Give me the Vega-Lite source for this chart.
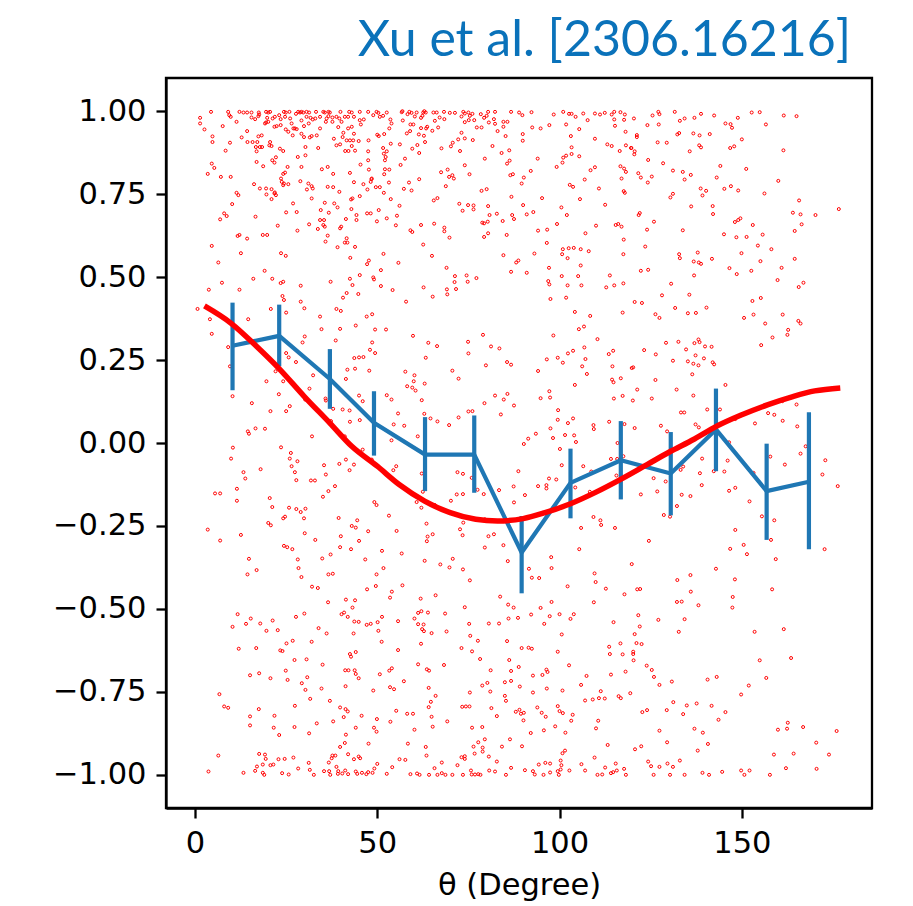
{
"$schema":"https://vega.github.io/schema/vega-lite/v6.json",
"width":706,"height":730,
"autosize":{"type":"none"},
"padding":{"left":166,"top":78,"right":41,"bottom":98},
"background":"white",
"config":{
"view":{"stroke":"black","strokeWidth":2.3},
"axis":{"domainColor":"black","domainWidth":2.3,"tickColor":"black","tickWidth":2.3,"tickSize":10,"labelFont":"DejaVu Sans","labelFontSize":30.5,"labelColor":"black","labelPadding":10,"grid":false,"titleFont":"DejaVu Sans","titleFontSize":30.5,"titleFontWeight":"normal","titleColor":"black"}
},
"title":{"text":"Xu et al. [2306.16216]","anchor":"end","frame":"group","dx":-21,"offset":12,"font":"Lato","fontSize":50,"fontWeight":"normal","color":"#0a72ba"},
"datasets":{
"bins":[{"t":10.3,"m":0.293,"lo":0.159,"hi":0.423},{"t":23.1,"m":0.323,"lo":0.231,"hi":0.417},{"t":37.0,"m":0.193,"lo":0.103,"hi":0.283},{"t":49.1,"m":0.061,"lo":-0.038,"hi":0.156},{"t":63.1,"m":-0.035,"lo":-0.145,"hi":0.078},{"t":76.6,"m":-0.035,"lo":-0.150,"hi":0.083},{"t":89.6,"m":-0.330,"lo":-0.453,"hi":-0.220},{"t":103.0,"m":-0.120,"lo":-0.227,"hi":-0.017},{"t":116.8,"m":-0.052,"lo":-0.170,"hi":0.066},{"t":130.5,"m":-0.092,"lo":-0.218,"hi":0.033},{"t":142.9,"m":0.041,"lo":-0.085,"hi":0.164},{"t":156.8,"m":-0.145,"lo":-0.292,"hi":-0.002},{"t":168.4,"m":-0.117,"lo":-0.320,"hi":0.093}],
"fit":[{"t":2.6,"f":0.413},{"t":10,"f":0.36},{"t":17,"f":0.29},{"t":23,"f":0.225},{"t":30,"f":0.14},{"t":37,"f":0.06},{"t":43,"f":-0.01},{"t":50,"f":-0.07},{"t":56,"f":-0.125},{"t":63,"f":-0.175},{"t":70,"f":-0.21},{"t":77,"f":-0.23},{"t":83,"f":-0.235},{"t":90,"f":-0.228},{"t":96,"f":-0.21},{"t":103,"f":-0.183},{"t":110,"f":-0.148},{"t":117,"f":-0.108},{"t":124,"f":-0.065},{"t":130,"f":-0.028},{"t":137,"f":0.012},{"t":143,"f":0.05},{"t":150,"f":0.085},{"t":157,"f":0.115},{"t":164,"f":0.14},{"t":170,"f":0.157},{"t":177,"f":0.166}],
"dots":[
{"t":4.4,"v":0.998},{"t":9.1,"v":0.998},{"t":12.2,"v":0.998},{"t":13.3,"v":0.996},{"t":14.3,"v":0.996},{"t":15.5,"v":0.996},{"t":17.5,"v":0.996},{"t":19.5,"v":0.998},{"t":20.1,"v":0.996},{"t":20.6,"v":0.998},{"t":24.4,"v":0.998},{"t":24.9,"v":0.996},{"t":25.9,"v":0.998},{"t":28.3,"v":0.998},{"t":28.8,"v":0.996},{"t":29.2,"v":0.998},{"t":29.7,"v":0.996},{"t":30.6,"v":0.998},{"t":31.3,"v":0.996},{"t":33.2,"v":0.998},{"t":35.2,"v":0.998},{"t":35.6,"v":0.996},{"t":36.6,"v":0.998},{"t":37.0,"v":0.996},{"t":39.9,"v":0.998},{"t":42.3,"v":0.998},{"t":43.0,"v":0.996},{"t":45.2,"v":0.998},{"t":47.5,"v":0.998},{"t":49.8,"v":0.998},{"t":50.3,"v":0.995},{"t":52.6,"v":0.996},
{"t":1.4,"v":0.980},{"t":9.4,"v":0.988},{"t":9.8,"v":0.983},{"t":15.5,"v":0.981},{"t":16.5,"v":0.976},{"t":17.6,"v":0.990},{"t":17.4,"v":0.985},{"t":19.8,"v":0.980},{"t":19.5,"v":0.966},{"t":21.3,"v":0.978},{"t":21.9,"v":0.983},{"t":23.1,"v":0.988},{"t":23.5,"v":0.976},{"t":24.7,"v":0.983},{"t":26.1,"v":0.978},{"t":27.7,"v":0.992},{"t":29.2,"v":0.972},{"t":30.6,"v":0.983},{"t":31.7,"v":0.980},{"t":32.3,"v":0.975},{"t":33.0,"v":0.978},{"t":34.3,"v":0.983},{"t":36.1,"v":0.978},{"t":36.6,"v":0.985},{"t":37.7,"v":0.981},{"t":38.8,"v":0.983},{"t":39.6,"v":0.978},{"t":41.1,"v":0.983},{"t":42.0,"v":0.983},{"t":43.6,"v":0.983},{"t":45.2,"v":0.973},{"t":46.3,"v":0.975},{"t":48.9,"v":0.988},{"t":50.7,"v":0.983},{"t":51.6,"v":0.986},{"t":53.6,"v":0.975},
{"t":1.4,"v":0.963},{"t":2.6,"v":0.945},{"t":7.6,"v":0.955},{"t":11.4,"v":0.968},{"t":19.2,"v":0.963},{"t":20.1,"v":0.968},{"t":21.8,"v":0.953},{"t":22.4,"v":0.955},{"t":23.5,"v":0.958},{"t":24.9,"v":0.945},{"t":26.5,"v":0.963},{"t":27.0,"v":0.948},{"t":27.9,"v":0.946},{"t":29.9,"v":0.955},{"t":31.2,"v":0.963},{"t":34.3,"v":0.948},{"t":35.9,"v":0.968},{"t":37.7,"v":0.968},{"t":39.3,"v":0.952},{"t":40.2,"v":0.968},{"t":42.0,"v":0.948},{"t":43.0,"v":0.953},{"t":45.5,"v":0.960},{"t":53.3,"v":0.948},{"t":53.9,"v":0.963},
{"t":4.8,"v":0.924},{"t":4.8,"v":0.907},{"t":9.6,"v":0.905},{"t":12.8,"v":0.921},{"t":14.3,"v":0.940},{"t":14.4,"v":0.907},{"t":15.8,"v":0.907},{"t":17.4,"v":0.924},{"t":18.3,"v":0.927},{"t":17.1,"v":0.907},{"t":20.6,"v":0.907},{"t":25.6,"v":0.938},{"t":26.8,"v":0.927},{"t":27.4,"v":0.948},{"t":29.2,"v":0.932},{"t":29.9,"v":0.922},{"t":31.5,"v":0.921},{"t":32.0,"v":0.925},{"t":33.4,"v":0.927},{"t":38.1,"v":0.917},{"t":40.5,"v":0.922},{"t":40.7,"v":0.935},{"t":41.6,"v":0.912},{"t":42.5,"v":0.912},{"t":43.4,"v":0.912},{"t":43.6,"v":0.932},{"t":44.9,"v":0.910},{"t":47.6,"v":0.912},{"t":50.0,"v":0.929},{"t":50.4,"v":0.925},{"t":51.9,"v":0.931},{"t":53.7,"v":0.902},
{"t":8.4,"v":0.881},{"t":16.7,"v":0.892},{"t":16.9,"v":0.879},{"t":17.8,"v":0.892},{"t":18.4,"v":0.892},{"t":20.4,"v":0.897},{"t":21.0,"v":0.895},{"t":23.3,"v":0.887},{"t":24.2,"v":0.880},{"t":30.3,"v":0.892},{"t":33.8,"v":0.889},{"t":38.8,"v":0.897},{"t":39.8,"v":0.900},{"t":41.2,"v":0.880},{"t":42.1,"v":0.880},{"t":43.0,"v":0.895},{"t":43.9,"v":0.881},{"t":47.5,"v":0.879},{"t":51.6,"v":0.889},{"t":52.6,"v":0.879},
{"t":4.6,"v":0.842},{"t":5.3,"v":0.829},{"t":16.9,"v":0.847},{"t":18.7,"v":0.834},{"t":21.2,"v":0.852},{"t":22.2,"v":0.861},{"t":21.8,"v":0.845},{"t":25.4,"v":0.832},{"t":28.2,"v":0.862},{"t":29.2,"v":0.832},{"t":30.3,"v":0.867},{"t":34.8,"v":0.825},{"t":36.4,"v":0.832},{"t":45.4,"v":0.839},{"t":47.5,"v":0.852},{"t":51.8,"v":0.872},{"t":52.1,"v":0.852},{"t":52.3,"v":0.862},{"t":52.1,"v":0.825},
{"t":3.5,"v":0.811},{"t":7.1,"v":0.802},{"t":9.8,"v":0.802},{"t":24.2,"v":0.811},{"t":24.7,"v":0.815},{"t":37.9,"v":0.811},{"t":42.5,"v":0.814},{"t":47.7,"v":0.824},{"t":48.4,"v":0.795},{"t":51.9,"v":0.810},{"t":53.3,"v":0.824},
{"t":16.2,"v":0.780},{"t":17.8,"v":0.767},{"t":19.5,"v":0.767},{"t":19.6,"v":0.749},{"t":21.0,"v":0.765},{"t":21.8,"v":0.752},{"t":23.6,"v":0.797},{"t":23.8,"v":0.787},{"t":24.2,"v":0.777},{"t":24.4,"v":0.782},{"t":25.6,"v":0.780},{"t":28.9,"v":0.789},{"t":30.7,"v":0.764},{"t":31.1,"v":0.782},{"t":32.0,"v":0.774},{"t":32.3,"v":0.767},{"t":36.4,"v":0.772},{"t":37.9,"v":0.771},{"t":39.6,"v":0.757},{"t":43.6,"v":0.786},{"t":46.2,"v":0.780},{"t":47.3,"v":0.764},{"t":48.5,"v":0.797},{"t":48.2,"v":0.787},{"t":49.6,"v":0.771},{"t":50.7,"v":0.771},{"t":51.8,"v":0.754},{"t":53.2,"v":0.785},
{"t":11.4,"v":0.754},{"t":11.9,"v":0.747},{"t":10.2,"v":0.720},{"t":21.0,"v":0.735},{"t":21.9,"v":0.755},{"t":22.2,"v":0.747},{"t":26.9,"v":0.722},{"t":32.0,"v":0.737},{"t":35.6,"v":0.724},{"t":38.2,"v":0.722},{"t":39.1,"v":0.710},{"t":42.8,"v":0.734},{"t":43.2,"v":0.737},{"t":42.9,"v":0.705},{"t":45.2,"v":0.744},{"t":50.4,"v":0.702},{"t":53.7,"v":0.735},
{"t":8.0,"v":0.692},{"t":8.7,"v":0.684},{"t":6.9,"v":0.674},{"t":16.6,"v":0.682},{"t":25.0,"v":0.695},{"t":27.9,"v":0.696},{"t":34.5,"v":0.702},{"t":36.7,"v":0.694},{"t":34.3,"v":0.672},{"t":35.2,"v":0.657},{"t":35.6,"v":0.652},{"t":35.4,"v":0.672},{"t":31.3,"v":0.659},{"t":33.7,"v":0.645},{"t":41.4,"v":0.675},{"t":44.3,"v":0.687},{"t":44.3,"v":0.672},{"t":47.2,"v":0.692},{"t":48.2,"v":0.692},{"t":49.9,"v":0.668},{"t":52.6,"v":0.677},{"t":39.8,"v":0.647},{"t":40.1,"v":0.652},{"t":28.1,"v":0.640},{"t":22.7,"v":0.655},
{"t":11.7,"v":0.624},{"t":12.2,"v":0.627},{"t":14.3,"v":0.616},{"t":18.6,"v":0.627},{"t":19.8,"v":0.627},{"t":4.6,"v":0.594},{"t":36.4,"v":0.625},{"t":35.8,"v":0.607},{"t":39.1,"v":0.590},{"t":41.1,"v":0.604},{"t":41.8,"v":0.604},{"t":41.6,"v":0.617},{"t":43.9,"v":0.591},
{"t":12.6,"v":0.572},{"t":6.4,"v":0.544},{"t":19.1,"v":0.519},{"t":23.6,"v":0.572},{"t":24.9,"v":0.564},{"t":42.6,"v":0.558},{"t":47.2,"v":0.539},{"t":47.7,"v":0.550},{"t":51.7,"v":0.570},{"t":51.0,"v":0.521},{"t":45.2,"v":0.506},
{"t":7.4,"v":0.483},{"t":16.0,"v":0.495},{"t":21.2,"v":0.495},{"t":23.5,"v":0.482},{"t":24.2,"v":0.486},{"t":29.0,"v":0.474},{"t":37.2,"v":0.486},{"t":42.5,"v":0.495},{"t":43.2,"v":0.476},{"t":48.9,"v":0.499},{"t":49.1,"v":0.493},{"t":51.0,"v":0.473},{"t":54.2,"v":0.461},{"t":3.8,"v":0.462},{"t":12.2,"v":0.462},
{"t":24.0,"v":0.443},{"t":24.4,"v":0.431},{"t":29.0,"v":0.426},{"t":40.6,"v":0.438},{"t":41.6,"v":0.452},{"t":44.8,"v":0.449},{"t":0.7,"v":0.404},{"t":4.1,"v":0.373},{"t":14.6,"v":0.373},{"t":20.8,"v":0.404},{"t":25.0,"v":0.393},{"t":30.0,"v":0.406},{"t":34.3,"v":0.381},{"t":38.8,"v":0.404},{"t":40.0,"v":0.398},{"t":47.1,"v":0.381},{"t":48.6,"v":0.388},
{"t":56.7,"v":0.997},{"t":56.9,"v":1.0},{"t":58.8,"v":0.998},{"t":59.4,"v":0.995},{"t":60.8,"v":0.996},{"t":62.6,"v":0.996},{"t":62.9,"v":1.0},{"t":63.3,"v":0.996},{"t":65.4,"v":0.996},{"t":66.3,"v":0.996},{"t":68.3,"v":0.998},{"t":69.9,"v":0.995},{"t":71.3,"v":0.995},{"t":73.6,"v":0.998},{"t":74.0,"v":0.993},{"t":75.0,"v":0.996},{"t":76.1,"v":0.992},{"t":78.4,"v":0.991},{"t":80.4,"v":0.998},{"t":82.3,"v":0.998},{"t":86.7,"v":0.998},{"t":88.9,"v":0.996},{"t":92.3,"v":0.997},{"t":98.4,"v":0.990},{"t":101.0,"v":0.998},{"t":102.6,"v":0.992},{"t":103.3,"v":0.992},{"t":106.5,"v":0.993},{"t":109.7,"v":0.993},{"t":111.1,"v":0.990},{"t":112.4,"v":0.995},{"t":114.3,"v":0.990},{"t":115.0,"v":0.998},{"t":116.7,"v":0.997},{"t":117.9,"v":0.990},
{"t":57.0,"v":0.972},{"t":58.3,"v":0.991},{"t":59.1,"v":0.960},{"t":59.9,"v":0.960},{"t":60.3,"v":0.984},{"t":62.0,"v":0.980},{"t":62.4,"v":0.986},{"t":65.8,"v":0.971},{"t":67.1,"v":0.981},{"t":68.4,"v":0.976},{"t":73.1,"v":0.984},{"t":74.0,"v":0.967},{"t":75.1,"v":0.973},{"t":75.4,"v":0.986},{"t":76.6,"v":0.973},{"t":79.3,"v":0.980},{"t":80.0,"v":0.986},{"t":80.6,"v":0.966},{"t":82.0,"v":0.976},{"t":82.3,"v":0.962},{"t":84.6,"v":0.968},{"t":85.7,"v":0.968},{"t":89.8,"v":0.988},{"t":97.2,"v":0.958},{"t":101.8,"v":0.960},{"t":104.4,"v":0.983},{"t":107.7,"v":0.973},{"t":115.0,"v":0.975},{"t":117.7,"v":0.974},
{"t":63.4,"v":0.948},{"t":63.7,"v":0.953},{"t":66.7,"v":0.951},{"t":62.0,"v":0.949},{"t":77.3,"v":0.951},{"t":78.6,"v":0.951},{"t":84.6,"v":0.953},{"t":92.5,"v":0.951},{"t":94.8,"v":0.948},{"t":105.4,"v":0.946},{"t":115.2,"v":0.956},
{"t":58.1,"v":0.933},{"t":59.0,"v":0.940},{"t":61.4,"v":0.930},{"t":62.8,"v":0.926},{"t":65.1,"v":0.941},{"t":72.2,"v":0.915},{"t":73.1,"v":0.935},{"t":74.0,"v":0.918},{"t":76.2,"v":0.913},{"t":83.0,"v":0.940},{"t":85.2,"v":0.925},{"t":89.9,"v":0.931},{"t":89.9,"v":0.911},{"t":103.1,"v":0.925},{"t":109.7,"v":0.917},{"t":118.1,"v":0.938},{"t":56.2,"v":0.900},{"t":63.1,"v":0.907},{"t":59.6,"v":0.887},{"t":61.0,"v":0.898},{"t":61.5,"v":0.874},{"t":67.6,"v":0.888},{"t":70.2,"v":0.894},{"t":70.7,"v":0.905},{"t":72.7,"v":0.880},{"t":81.6,"v":0.895},{"t":84.1,"v":0.874},{"t":86.2,"v":0.882},{"t":103.3,"v":0.891},{"t":113.1,"v":0.900},{"t":114.3,"v":0.895},{"t":118.2,"v":0.897},{"t":119.6,"v":0.889},{"t":116.5,"v":0.880},
{"t":57.6,"v":0.857},{"t":56.4,"v":0.838},{"t":67.5,"v":0.816},{"t":69.3,"v":0.824},{"t":69.7,"v":0.802},{"t":70.6,"v":0.807},{"t":71.0,"v":0.797},{"t":74.0,"v":0.837},{"t":75.3,"v":0.810},{"t":79.5,"v":0.857},{"t":85.6,"v":0.842},{"t":86.3,"v":0.851},{"t":86.5,"v":0.807},{"t":87.2,"v":0.810},{"t":90.2,"v":0.800},{"t":89.6,"v":0.782},{"t":92.1,"v":0.820},{"t":94.0,"v":0.857},{"t":99.2,"v":0.832},{"t":100.8,"v":0.845},{"t":101.0,"v":0.860},{"t":101.8,"v":0.866},{"t":103.3,"v":0.871},{"t":105.4,"v":0.864},{"t":108.5,"v":0.822},{"t":109.7,"v":0.831},{"t":116.7,"v":0.834},{"t":117.7,"v":0.827},{"t":118.2,"v":0.817},{"t":117.0,"v":0.797},
{"t":58.7,"v":0.785},{"t":61.5,"v":0.795},{"t":57.3,"v":0.766},{"t":59.4,"v":0.761},{"t":68.8,"v":0.774},{"t":65.5,"v":0.731},{"t":66.5,"v":0.738},{"t":78.6,"v":0.760},{"t":80.0,"v":0.765},{"t":86.8,"v":0.742},{"t":95.2,"v":0.738},{"t":102.8,"v":0.778},{"t":103.7,"v":0.772},{"t":105.6,"v":0.735},{"t":106.9,"v":0.794},{"t":110.8,"v":0.767},{"t":117.6,"v":0.759},{"t":117.9,"v":0.754},
{"t":56.1,"v":0.715},{"t":55.4,"v":0.685},{"t":55.1,"v":0.656},{"t":72.5,"v":0.721},{"t":73.4,"v":0.700},{"t":74.9,"v":0.717},{"t":76.4,"v":0.716},{"t":76.4,"v":0.704},{"t":80.4,"v":0.714},{"t":80.8,"v":0.687},{"t":82.8,"v":0.691},{"t":78.8,"v":0.664},{"t":79.3,"v":0.662},{"t":80.3,"v":0.667},{"t":84.4,"v":0.669},{"t":87.0,"v":0.687},{"t":87.5,"v":0.675},{"t":90.0,"v":0.717},{"t":91.0,"v":0.689},{"t":92.8,"v":0.696},{"t":100.5,"v":0.710},{"t":102.0,"v":0.687},{"t":112.5,"v":0.718},{"t":62.0,"v":0.657},{"t":65.6,"v":0.661},{"t":68.4,"v":0.649},{"t":68.4,"v":0.638},{"t":59.1,"v":0.641},{"t":59.6,"v":0.636},{"t":69.8,"v":0.619},{"t":79.3,"v":0.621},{"t":80.4,"v":0.632},{"t":85.5,"v":0.627},{"t":94.1,"v":0.640},{"t":96.6,"v":0.643},{"t":99.3,"v":0.660},{"t":107.1,"v":0.632},{"t":110.0,"v":0.655},{"t":115.4,"v":0.657},{"t":116.1,"v":0.660},{"t":117.0,"v":0.652},{"t":117.6,"v":0.613},
{"t":62.6,"v":0.598},{"t":65.0,"v":0.564},{"t":84.6,"v":0.566},{"t":88.1,"v":0.544},{"t":88.7,"v":0.550},{"t":93.1,"v":0.571},{"t":96.5,"v":0.603},{"t":100.9,"v":0.584},{"t":100.7,"v":0.569},{"t":102.5,"v":0.587},{"t":103.9,"v":0.588},{"t":105.8,"v":0.584},{"t":108.0,"v":0.578},{"t":102.2,"v":0.557},{"t":117.5,"v":0.569},{"t":55.8,"v":0.543},{"t":105.8,"v":0.535},
{"t":69.0,"v":0.528},{"t":86.7,"v":0.516},{"t":91.0,"v":0.513},{"t":97.1,"v":0.528},{"t":71.3,"v":0.503},{"t":74.5,"v":0.505},{"t":77.2,"v":0.497},{"t":71.2,"v":0.485},{"t":74.8,"v":0.486},{"t":96.9,"v":0.488},{"t":97.2,"v":0.478},{"t":100.6,"v":0.503},{"t":105.1,"v":0.503},{"t":113.8,"v":0.505},{"t":62.7,"v":0.469},{"t":69.1,"v":0.463},{"t":71.6,"v":0.464},{"t":102.2,"v":0.475},{"t":106.0,"v":0.475},{"t":112.8,"v":0.469},{"t":115.0,"v":0.475},{"t":117.5,"v":0.481},{"t":69.2,"v":0.448},{"t":65.2,"v":0.441},{"t":57.9,"v":0.426},{"t":97.5,"v":0.434},{"t":101.8,"v":0.438},{"t":104.2,"v":0.395},{"t":108.4,"v":0.383},{"t":117.3,"v":0.393},
{"t":120.4,"v":0.978},{"t":125.5,"v":0.987},{"t":127.1,"v":0.998},{"t":127.4,"v":0.991},{"t":131.6,"v":0.998},{"t":133.0,"v":0.971},{"t":134.3,"v":0.978},{"t":137.0,"v":0.980},{"t":138.8,"v":0.992},{"t":142.4,"v":0.987},{"t":148.9,"v":0.980},{"t":152.7,"v":0.996},{"t":154.9,"v":0.997},{"t":161.5,"v":0.987},{"t":165.0,"v":0.985},{"t":124.1,"v":0.958},{"t":127.2,"v":0.960},{"t":145.5,"v":0.963},{"t":146.9,"v":0.961},{"t":147.3,"v":0.950},{"t":156.6,"v":0.960},{"t":121.2,"v":0.928},{"t":121.2,"v":0.922},{"t":132.3,"v":0.930},{"t":132.8,"v":0.934},{"t":136.7,"v":0.933},{"t":138.4,"v":0.927},{"t":141.2,"v":0.931},{"t":126.9,"v":0.906},{"t":129.4,"v":0.905},{"t":119.7,"v":0.889},{"t":120.6,"v":0.879},{"t":120.5,"v":0.870},{"t":135.7,"v":0.879},{"t":138.3,"v":0.897},{"t":138.8,"v":0.891},{"t":146.8,"v":0.889},{"t":147.9,"v":0.894},{"t":150.0,"v":0.915},{"t":161.4,"v":0.882},{"t":124.3,"v":0.853},{"t":128.4,"v":0.843},{"t":121.6,"v":0.813},{"t":122.3,"v":0.800},{"t":125.3,"v":0.803},{"t":124.2,"v":0.785},{"t":131.1,"v":0.821},{"t":133.8,"v":0.817},{"t":134.3,"v":0.794},{"t":136.0,"v":0.808},{"t":143.1,"v":0.800},{"t":144.1,"v":0.835},{"t":151.2,"v":0.826},{"t":160.0,"v":0.790},{"t":138.7,"v":0.767},{"t":140.2,"v":0.760},{"t":139.2,"v":0.746},{"t":130.4,"v":0.740},{"t":131.1,"v":0.751},{"t":145.2,"v":0.766},{"t":147.0,"v":0.774},{"t":149.0,"v":0.761},{"t":156.2,"v":0.752},{"t":165.7,"v":0.731},{"t":136.1,"v":0.713},{"t":142.0,"v":0.714},{"t":142.1,"v":0.690},{"t":121.7,"v":0.687},{"t":122.0,"v":0.693},{"t":125.9,"v":0.667},{"t":148.1,"v":0.666},{"t":149.0,"v":0.672},{"t":149.6,"v":0.677},{"t":153.0,"v":0.657},{"t":164.0,"v":0.694},{"t":166.1,"v":0.689},{"t":170.2,"v":0.687},{"t":176.6,"v":0.705},{"t":166.4,"v":0.659},{"t":124.0,"v":0.643},{"t":133.8,"v":0.641},{"t":145.1,"v":0.629},{"t":148.5,"v":0.620},{"t":151.3,"v":0.621},{"t":155.7,"v":0.628},{"t":164.5,"v":0.639},{"t":123.5,"v":0.592},{"t":154.4,"v":0.595},{"t":158.1,"v":0.584},{"t":132.8,"v":0.569},{"t":133.0,"v":0.557},{"t":137.9,"v":0.574},{"t":136.8,"v":0.547},{"t":138.2,"v":0.544},{"t":138.8,"v":0.540},{"t":141.8,"v":0.555},{"t":149.9,"v":0.572},{"t":155.1,"v":0.548},{"t":164.5,"v":0.555},{"t":122.3,"v":0.519},{"t":124.3,"v":0.522},{"t":136.9,"v":0.505},{"t":146.6,"v":0.527},{"t":148.6,"v":0.509},{"t":152.6,"v":0.519},{"t":160.9,"v":0.528},{"t":159.8,"v":0.491},{"t":165.6,"v":0.470},{"t":166.9,"v":0.483},{"t":130.6,"v":0.480},{"t":128.1,"v":0.445},{"t":135.6,"v":0.447},{"t":120.6,"v":0.425},{"t":122.6,"v":0.422},{"t":152.9,"v":0.428},{"t":155.2,"v":0.437},{"t":131.7,"v":0.407},{"t":140.3,"v":0.408},{"t":126.3,"v":0.388},{"t":127.4,"v":0.377},{"t":135.2,"v":0.391},{"t":137.4,"v":0.392},{"t":150.6,"v":0.377},{"t":153.2,"v":0.387},{"t":161.2,"v":0.387},{"t":156.4,"v":0.360},{"t":165.5,"v":0.368},{"t":166.1,"v":0.360},
{"t":4.6,"v":0.329},{"t":34.7,"v":0.343},{"t":39.8,"v":0.344},{"t":44.1,"v":0.354},{"t":49.4,"v":0.342},{"t":52.4,"v":0.342},{"t":9.1,"v":0.289},{"t":9.6,"v":0.231},{"t":10.3,"v":0.141},{"t":25.0,"v":0.271},{"t":25.7,"v":0.258},{"t":27.7,"v":0.244},{"t":29.5,"v":0.303},{"t":30.1,"v":0.321},{"t":38.6,"v":0.309},{"t":43.7,"v":0.256},{"t":45.0,"v":0.258},{"t":46.2,"v":0.259},{"t":48.0,"v":0.281},{"t":48.6,"v":0.303},{"t":49.4,"v":0.271},{"t":43.9,"v":0.224},{"t":41.8,"v":0.221},{"t":47.8,"v":0.218},{"t":32.4,"v":0.204},{"t":19.6,"v":0.186},{"t":24.2,"v":0.186},{"t":22.1,"v":0.216},{"t":23.0,"v":0.147},{"t":31.4,"v":0.164},{"t":35.8,"v":0.134},{"t":35.9,"v":0.128},{"t":37.9,"v":0.103},{"t":40.5,"v":0.101},{"t":42.4,"v":0.098},{"t":41.4,"v":0.193},{"t":45.0,"v":0.143},{"t":46.0,"v":0.126},{"t":52.6,"v":0.144},{"t":53.9,"v":0.131},{"t":15.6,"v":0.120},{"t":20.7,"v":0.096},{"t":25.0,"v":0.096},{"t":26.0,"v":0.111},{"t":30.2,"v":0.131},{"t":37.3,"v":0.066},{"t":45.2,"v":0.069},{"t":42.5,"v":0.064},{"t":54.5,"v":0.056},{"t":14.5,"v":0.035},{"t":14.8,"v":0.028},{"t":16.6,"v":0.044},{"t":19.2,"v":0.043},{"t":32.1,"v":0.020},{"t":40.5,"v":0.020},{"t":41.1,"v":0.020},{"t":10.4,"v":-0.014},{"t":9.9,"v":-0.047},{"t":23.6,"v":-0.013},{"t":26.3,"v":-0.030},{"t":26.0,"v":-0.047},{"t":26.5,"v":-0.070},{"t":28.1,"v":-0.055},{"t":27.4,"v":-0.088},{"t":27.8,"v":-0.112},{"t":18.0,"v":-0.079},{"t":13.3,"v":-0.088},{"t":13.8,"v":-0.107},{"t":31.8,"v":-0.113},{"t":32.9,"v":-0.113},{"t":35.4,"v":-0.067},{"t":35.9,"v":-0.095},{"t":39.6,"v":-0.063},{"t":41.4,"v":-0.050},{"t":43.6,"v":-0.065},{"t":42.4,"v":-0.082},{"t":46.0,"v":-0.020},{"t":48.5,"v":-0.050},{"t":53.9,"v":0.008},{"t":54.4,"v":-0.082},{"t":38.4,"v":-0.130},{"t":36.6,"v":-0.145},{"t":35.1,"v":-0.162},{"t":11.5,"v":-0.138},{"t":11.5,"v":-0.174},{"t":5.5,"v":-0.152},{"t":6.9,"v":-0.152},{"t":20.5,"v":-0.166},{"t":21.2,"v":-0.193},{"t":24.2,"v":-0.227},{"t":24.7,"v":-0.222},{"t":25.8,"v":-0.195},{"t":27.8,"v":-0.199},{"t":29.0,"v":-0.208},{"t":30.3,"v":-0.198},{"t":29.9,"v":-0.227},{"t":20.1,"v":-0.241},{"t":20.8,"v":-0.248},{"t":3.5,"v":-0.261},{"t":6.9,"v":-0.294},{"t":12.6,"v":-0.277},{"t":30.1,"v":-0.272},{"t":33.0,"v":-0.292},{"t":39.4,"v":-0.226},{"t":43.0,"v":-0.250},{"t":44.1,"v":-0.255},{"t":44.5,"v":-0.233},{"t":47.5,"v":-0.266},{"t":49.2,"v":-0.178},{"t":49.8,"v":-0.187},{"t":53.2,"v":-0.219},{"t":55.3,"v":-0.265},{"t":40.0,"v":-0.281},{"t":45.0,"v":-0.295},{"t":24.4,"v":-0.310},{"t":25.3,"v":-0.314},{"t":26.7,"v":-0.320},{"t":39.8,"v":-0.314},{"t":42.8,"v":-0.320},{"t":51.3,"v":-0.325},{"t":14.8,"v":-0.349},{"t":28.2,"v":-0.351},{"t":34.9,"v":-0.348},{"t":37.2,"v":-0.336},{"t":46.7,"v":-0.351},
{"t":59.8,"v":0.323},{"t":64.0,"v":0.302},{"t":66.4,"v":0.292},{"t":74.9,"v":0.305},{"t":75.0,"v":0.270},{"t":79.0,"v":0.326},{"t":81.2,"v":0.291},{"t":83.5,"v":0.285},{"t":98.3,"v":0.324},{"t":105.3,"v":0.343},{"t":106.7,"v":0.351},{"t":110.4,"v":0.313},{"t":63.3,"v":0.257},{"t":70.6,"v":0.218},{"t":72.3,"v":0.194},{"t":79.8,"v":0.234},{"t":85.6,"v":0.244},{"t":86.7,"v":0.236},{"t":94.1,"v":0.217},{"t":96.5,"v":0.252},{"t":99.5,"v":0.257},{"t":100.9,"v":0.242},{"t":102.3,"v":0.270},{"t":103.7,"v":0.278},{"t":106.8,"v":0.288},{"t":107.1,"v":0.253},{"t":106.2,"v":0.231},{"t":107.5,"v":0.208},{"t":113.5,"v":0.268},{"t":114.7,"v":0.278},{"t":114.5,"v":0.231},{"t":57.7,"v":0.215},{"t":60.2,"v":0.204},{"t":60.0,"v":0.186},{"t":58.2,"v":0.171},{"t":59.6,"v":0.167},{"t":60.5,"v":0.158},{"t":63.0,"v":0.179},{"t":62.2,"v":0.129},{"t":79.4,"v":0.120},{"t":82.3,"v":0.143},{"t":84.7,"v":0.131},{"t":85.7,"v":0.148},{"t":87.5,"v":0.113},{"t":94.8,"v":0.135},{"t":97.4,"v":0.137},{"t":97.2,"v":0.156},{"t":99.6,"v":0.099},{"t":104.2,"v":0.175},{"t":114.4,"v":0.191},{"t":114.8,"v":0.183},{"t":116.8,"v":0.195},{"t":114.9,"v":0.134},{"t":117.3,"v":0.142},{"t":55.7,"v":0.089},{"t":57.4,"v":0.052},{"t":62.9,"v":0.088},{"t":64.6,"v":0.074},{"t":66.5,"v":0.065},{"t":69.7,"v":0.054},{"t":72.3,"v":0.077},{"t":75.0,"v":0.095},{"t":76.1,"v":0.096},{"t":83.9,"v":0.086},{"t":97.5,"v":0.044},{"t":99.5,"v":0.070},{"t":102.3,"v":0.060},{"t":103.7,"v":0.074},{"t":109.3,"v":0.054},{"t":109.4,"v":0.042},{"t":113.6,"v":0.064},{"t":117.8,"v":0.057},{"t":61.1,"v":0.020},{"t":90.2,"v":-0.003},{"t":91.4,"v":0.013},{"t":93.5,"v":0.028},{"t":98.2,"v":0.015},{"t":100.1,"v":-0.018},{"t":101.5,"v":0.024},{"t":104.0,"v":0.023},{"t":104.5,"v":0.003},{"t":115.9,"v":0.000},{"t":117.5,"v":-0.040},{"t":55.2,"v":-0.070},{"t":62.2,"v":-0.092},{"t":62.5,"v":-0.147},{"t":72.0,"v":-0.088},{"t":73.5,"v":-0.093},{"t":75.9,"v":-0.105},{"t":71.8,"v":-0.155},{"t":73.5,"v":-0.154},{"t":77.5,"v":-0.141},{"t":79.2,"v":-0.154},{"t":83.4,"v":-0.142},{"t":87.4,"v":-0.131},{"t":88.7,"v":-0.085},{"t":90.5,"v":-0.157},{"t":94.1,"v":-0.130},{"t":96.4,"v":-0.127},{"t":96.4,"v":-0.137},{"t":97.1,"v":-0.107},{"t":99.1,"v":-0.110},{"t":100.6,"v":-0.067},{"t":104.3,"v":-0.134},{"t":106.5,"v":-0.070},{"t":108.7,"v":-0.086},{"t":108.3,"v":-0.147},{"t":115.6,"v":-0.098},{"t":115.8,"v":-0.048},{"t":114.1,"v":-0.048},{"t":70.2,"v":-0.174},{"t":65.8,"v":-0.187},{"t":62.1,"v":-0.195},{"t":60.8,"v":-0.178},{"t":87.5,"v":-0.179},{"t":73.6,"v":-0.240},{"t":72.7,"v":-0.260},{"t":73.4,"v":-0.278},{"t":63.5,"v":-0.243},{"t":63.8,"v":-0.282},{"t":63.6,"v":-0.296},{"t":65.2,"v":-0.275},{"t":80.5,"v":-0.281},{"t":82.0,"v":-0.275},{"t":79.5,"v":-0.315},{"t":84.6,"v":-0.308},{"t":79.5,"v":-0.230},{"t":105.9,"v":-0.256},{"t":109.3,"v":-0.223},{"t":111.2,"v":-0.233},{"t":111.4,"v":-0.247},{"t":115.2,"v":-0.256},{"t":105.4,"v":-0.320},{"t":56.7,"v":-0.333},{"t":63.0,"v":-0.355},{"t":70.7,"v":-0.349},{"t":85.8,"v":-0.356},{"t":97.7,"v":-0.344},{"t":119.8,"v":-0.365},
{"t":162.7,"v":0.341},{"t":162.5,"v":0.326},{"t":158.4,"v":0.318},{"t":155.3,"v":0.295},{"t":123.2,"v":0.280},{"t":126.4,"v":0.267},{"t":129.2,"v":0.302},{"t":132.6,"v":0.305},{"t":134.7,"v":0.282},{"t":137.0,"v":0.301},{"t":138.1,"v":0.312},{"t":138.4,"v":0.304},{"t":139.9,"v":0.291},{"t":141.7,"v":0.290},{"t":137.3,"v":0.264},{"t":139.6,"v":0.255},{"t":131.1,"v":0.248},{"t":135.2,"v":0.246},{"t":136.7,"v":0.239},{"t":138.1,"v":0.234},{"t":142.0,"v":0.243},{"t":142.4,"v":0.237},{"t":136.4,"v":0.207},{"t":119.8,"v":0.226},{"t":120.2,"v":0.228},{"t":126.3,"v":0.190},{"t":121.3,"v":0.161},{"t":132.1,"v":0.161},{"t":145.5,"v":0.175},{"t":136.7,"v":0.143},{"t":120.1,"v":0.128},{"t":125.3,"v":0.134},{"t":140.5,"v":0.101},{"t":144.0,"v":0.101},{"t":133.3,"v":0.092},{"t":134.2,"v":0.092},{"t":161.1,"v":0.126},{"t":165.0,"v":0.116},{"t":154.5,"v":0.103},{"t":157.2,"v":0.090},{"t":158.9,"v":0.085},{"t":161.2,"v":0.067},{"t":165.2,"v":0.050},{"t":153.6,"v":0.059},{"t":148.2,"v":0.072},{"t":120.6,"v":0.045},{"t":127.8,"v":0.052},{"t":129.5,"v":0.035},{"t":137.3,"v":0.056},{"t":138.2,"v":0.047},{"t":146.5,"v":0.002},{"t":167.5,"v":-0.010},{"t":166.1,"v":-0.032},{"t":157.8,"v":-0.041},{"t":139.1,"v":-0.047},{"t":146.1,"v":-0.053},{"t":172.9,"v":-0.052},{"t":133.2,"v":-0.081},{"t":133.9,"v":-0.071},{"t":138.5,"v":-0.091},{"t":142.3,"v":-0.085},{"t":145.2,"v":-0.086},{"t":153.2,"v":-0.090},{"t":161.8,"v":-0.065},{"t":172.1,"v":-0.095},{"t":125.8,"v":-0.106},{"t":129.1,"v":-0.116},{"t":139.0,"v":-0.127},{"t":148.2,"v":-0.135},{"t":146.5,"v":-0.144},{"t":122.3,"v":-0.155},{"t":126.8,"v":-0.146},{"t":133.5,"v":-0.156},{"t":135.9,"v":-0.160},{"t":152.1,"v":-0.176},{"t":176.3,"v":-0.130},{"t":132.2,"v":-0.190},{"t":128.6,"v":-0.217},{"t":130.3,"v":-0.222},{"t":155.5,"v":-0.221},{"t":158.9,"v":-0.233},{"t":148.2,"v":-0.262},{"t":124.5,"v":-0.295},{"t":158.0,"v":-0.292},{"t":172.7,"v":-0.320},{"t":146.8,"v":-0.319},{"t":150.5,"v":-0.307},{"t":151.4,"v":-0.335},{"t":159.3,"v":-0.350},
{"t":14.4,"v":-0.396},{"t":16.9,"v":-0.383},{"t":28.4,"v":-0.377},{"t":29.2,"v":-0.404},{"t":36.6,"v":-0.396},{"t":37.8,"v":-0.394},{"t":32.1,"v":-0.433},{"t":33.7,"v":-0.437},{"t":49.8,"v":-0.396},{"t":51.7,"v":-0.377},{"t":49.6,"v":-0.431},{"t":47.2,"v":-0.441},{"t":54.0,"v":-0.448},{"t":53.5,"v":-0.466},{"t":36.5,"v":-0.480},{"t":41.4,"v":-0.472},{"t":43.9,"v":-0.474},{"t":43.2,"v":-0.496},{"t":40.2,"v":-0.516},{"t":40.9,"v":-0.511},{"t":41.9,"v":-0.524},{"t":43.7,"v":-0.538},{"t":44.9,"v":-0.539},{"t":47.1,"v":-0.548},{"t":48.2,"v":-0.545},{"t":50.1,"v":-0.540},{"t":51.3,"v":-0.524},{"t":50.3,"v":-0.566},{"t":11.7,"v":-0.516},{"t":15.3,"v":-0.529},{"t":10.3,"v":-0.554},{"t":14.0,"v":-0.545},{"t":17.9,"v":-0.544},{"t":19.6,"v":-0.566},{"t":21.3,"v":-0.535},{"t":22.7,"v":-0.564},{"t":27.7,"v":-0.524},{"t":30.0,"v":-0.514},{"t":33.9,"v":-0.558},{"t":36.1,"v":-0.574},{"t":43.5,"v":-0.574},{"t":51.2,"v":-0.599},{"t":12.0,"v":-0.620},{"t":16.8,"v":-0.618},{"t":25.1,"v":-0.604},{"t":26.8,"v":-0.596},{"t":23.4,"v":-0.625},{"t":24.0,"v":-0.627},{"t":32.0,"v":-0.599},{"t":42.5,"v":-0.636},{"t":42.8,"v":-0.644},{"t":44.1,"v":-0.630},{"t":27.3,"v":-0.654},{"t":30.6,"v":-0.652},{"t":35.0,"v":-0.668},{"t":15.1,"v":-0.700},{"t":17.6,"v":-0.694},{"t":20.7,"v":-0.709},{"t":24.9,"v":-0.686},{"t":25.4,"v":-0.714},{"t":29.3,"v":-0.724},{"t":30.8,"v":-0.706},{"t":30.3,"v":-0.744},{"t":34.7,"v":-0.740},{"t":41.2,"v":-0.685},{"t":42.1,"v":-0.685},{"t":43.8,"v":-0.685},{"t":44.1,"v":-0.696},{"t":44.9,"v":-0.709},{"t":41.3,"v":-0.733},{"t":48.9,"v":-0.746},{"t":50.7,"v":-0.697},{"t":53.3,"v":-0.686},{"t":54.0,"v":-0.679},{"t":53.5,"v":-0.736},{"t":54.6,"v":-0.742},{"t":6.7,"v":-0.757},{"t":8.0,"v":-0.794},{"t":9.1,"v":-0.798},{"t":17.5,"v":-0.802},{"t":27.4,"v":-0.792},{"t":31.6,"v":-0.771},{"t":37.0,"v":-0.777},{"t":39.8,"v":-0.797},{"t":41.3,"v":-0.802},{"t":41.9,"v":-0.809},{"t":40.8,"v":-0.826},{"t":45.7,"v":-0.822},{"t":15.1,"v":-0.824},{"t":15.1,"v":-0.851},{"t":21.8,"v":-0.822},{"t":21.6,"v":-0.858},{"t":23.1,"v":-0.880},{"t":27.3,"v":-0.856},{"t":31.3,"v":-0.875},{"t":33.4,"v":-0.845},{"t":37.9,"v":-0.839},{"t":44.1,"v":-0.858},{"t":41.4,"v":-0.879},{"t":49.1,"v":-0.858},{"t":49.9,"v":-0.832},{"t":49.8,"v":-0.870},{"t":53.6,"v":-0.840},{"t":39.8,"v":-0.916},{"t":41.1,"v":-0.904},{"t":47.6,"v":-0.906},{"t":6.4,"v":-0.942},{"t":17.6,"v":-0.937},{"t":19.2,"v":-0.939},{"t":19.4,"v":-0.952},{"t":22.9,"v":-0.953},{"t":24.6,"v":-0.952},{"t":27.0,"v":-0.948},{"t":31.2,"v":-0.964},{"t":36.7,"v":-0.963},{"t":37.5,"v":-0.950},{"t":37.7,"v":-0.942},{"t":38.5,"v":-0.942},{"t":42.0,"v":-0.938},{"t":43.6,"v":-0.953},{"t":44.9,"v":-0.945},{"t":45.3,"v":-0.950},{"t":50.0,"v":-0.967},{"t":3.7,"v":-0.990},{"t":13.3,"v":-0.994},{"t":16.5,"v":-0.988},{"t":17.0,"v":-0.975},{"t":18.6,"v":-0.969},{"t":18.6,"v":-0.994},{"t":19.0,"v":-1.0},{"t":20.7,"v":-0.971},{"t":21.5,"v":-0.969},{"t":23.9,"v":-0.995},{"t":25.7,"v":-0.999},{"t":28.3,"v":-0.981},{"t":31.5,"v":-0.985},{"t":32.6,"v":-1.0},{"t":35.4,"v":-0.989},{"t":36.8,"v":-0.989},{"t":37.1,"v":-1.0},{"t":38.8,"v":-0.976},{"t":39.3,"v":-0.989},{"t":39.2,"v":-0.997},{"t":40.4,"v":-0.996},{"t":41.2,"v":-0.987},{"t":42.0,"v":-0.998},{"t":44.1,"v":-0.990},{"t":44.5,"v":-0.997},{"t":45.8,"v":-0.994},{"t":47.0,"v":-0.998},{"t":47.5,"v":-0.992},{"t":48.7,"v":-0.994},{"t":49.2,"v":-0.981},{"t":52.6,"v":-0.997},{"t":54.1,"v":-0.977},
{"t":67.3,"v":-0.366},{"t":69.8,"v":-0.375},{"t":73.5,"v":-0.381},{"t":75.4,"v":-0.414},{"t":56.9,"v":-0.429},{"t":66.0,"v":-0.459},{"t":61.9,"v":-0.469},{"t":91.6,"v":-0.379},{"t":92.4,"v":-0.406},{"t":94.4,"v":-0.407},{"t":97.8,"v":-0.377},{"t":102.2,"v":-0.432},{"t":109.6,"v":-0.393},{"t":109.9,"v":-0.419},{"t":112.7,"v":-0.439},{"t":117.8,"v":-0.456},{"t":83.7,"v":-0.463},{"t":85.9,"v":-0.487},{"t":87.4,"v":-0.496},{"t":94.8,"v":-0.497},{"t":97.8,"v":-0.479},{"t":109.4,"v":-0.480},{"t":55.7,"v":-0.537},{"t":60.2,"v":-0.529},{"t":61.2,"v":-0.512},{"t":62.1,"v":-0.507},{"t":63.9,"v":-0.511},{"t":68.6,"v":-0.514},{"t":74.0,"v":-0.495},{"t":61.2,"v":-0.546},{"t":62.7,"v":-0.547},{"t":62.3,"v":-0.561},{"t":62.8,"v":-0.567},{"t":64.9,"v":-0.573},{"t":69.0,"v":-0.568},{"t":75.2,"v":-0.545},{"t":80.6,"v":-0.544},{"t":83.4,"v":-0.544},{"t":86.0,"v":-0.529},{"t":88.6,"v":-0.527},{"t":92.2,"v":-0.517},{"t":95.8,"v":-0.545},{"t":97.3,"v":-0.522},{"t":100.0,"v":-0.516},{"t":103.0,"v":-0.530},{"t":103.9,"v":-0.516},{"t":114.8,"v":-0.540},{"t":62.0,"v":-0.605},{"t":75.5,"v":-0.581},{"t":77.6,"v":-0.596},{"t":73.1,"v":-0.618},{"t":76.0,"v":-0.628},{"t":85.6,"v":-0.597},{"t":89.6,"v":-0.618},{"t":91.5,"v":-0.617},{"t":92.4,"v":-0.620},{"t":99.5,"v":-0.629},{"t":100.6,"v":-0.577},{"t":113.6,"v":-0.614},{"t":116.7,"v":-0.604},{"t":113.8,"v":-0.636},{"t":117.3,"v":-0.637},{"t":55.7,"v":-0.624},{"t":78.2,"v":-0.651},{"t":86.2,"v":-0.654},{"t":61.2,"v":-0.667},{"t":63.6,"v":-0.682},{"t":64.2,"v":-0.686},{"t":68.3,"v":-0.669},{"t":81.1,"v":-0.685},{"t":86.7,"v":-0.687},{"t":88.8,"v":-0.675},{"t":92.7,"v":-0.701},{"t":95.3,"v":-0.699},{"t":96.4,"v":-0.683},{"t":96.7,"v":-0.690},{"t":102.6,"v":-0.670},{"t":107.4,"v":-0.702},{"t":114.1,"v":-0.698},{"t":118.1,"v":-0.689},{"t":57.3,"v":-0.718},{"t":64.1,"v":-0.738},{"t":78.8,"v":-0.731},{"t":80.2,"v":-0.723},{"t":85.0,"v":-0.721},{"t":86.7,"v":-0.717},{"t":89.1,"v":-0.734},{"t":100.8,"v":-0.746},{"t":105.9,"v":-0.729},{"t":64.7,"v":-0.780},{"t":66.0,"v":-0.762},{"t":64.1,"v":-0.796},{"t":75.4,"v":-0.752},{"t":81.0,"v":-0.749},{"t":85.0,"v":-0.762},{"t":85.3,"v":-0.777},{"t":92.7,"v":-0.752},{"t":96.5,"v":-0.740},{"t":107.0,"v":-0.776},{"t":109.1,"v":-0.773},{"t":110.8,"v":-0.769},{"t":111.3,"v":-0.748},{"t":112.4,"v":-0.770},{"t":116.2,"v":-0.763},{"t":116.8,"v":-0.769},{"t":119.4,"v":-0.754},{"t":55.2,"v":-0.807},{"t":58.2,"v":-0.816},{"t":59.8,"v":-0.816},{"t":64.9,"v":-0.825},{"t":69.2,"v":-0.839},{"t":73.3,"v":-0.795},{"t":74.3,"v":-0.794},{"t":75.3,"v":-0.794},{"t":81.3,"v":-0.799},{"t":82.8,"v":-0.823},{"t":88.0,"v":-0.810},{"t":89.0,"v":-0.804},{"t":89.4,"v":-0.816},{"t":90.2,"v":-0.813},{"t":90.1,"v":-0.836},{"t":93.9,"v":-0.797},{"t":95.1,"v":-0.813},{"t":96.2,"v":-0.825},{"t":99.5,"v":-0.793},{"t":100.0,"v":-0.808},{"t":100.9,"v":-0.814},{"t":103.6,"v":-0.819},{"t":103.2,"v":-0.837},{"t":110.6,"v":-0.837},{"t":110.0,"v":-0.860},{"t":60.2,"v":-0.864},{"t":65.2,"v":-0.855},{"t":76.0,"v":-0.858},{"t":78.8,"v":-0.856},{"t":92.1,"v":-0.874},{"t":95.7,"v":-0.866},{"t":98.8,"v":-0.854},{"t":101.6,"v":-0.873},{"t":58.4,"v":-0.906},{"t":63.3,"v":-0.916},{"t":63.5,"v":-0.942},{"t":56.1,"v":-0.953},{"t":57.7,"v":-0.955},{"t":76.4,"v":-0.915},{"t":77.7,"v":-0.902},{"t":78.9,"v":-0.918},{"t":78.9,"v":-0.930},{"t":79.5,"v":-0.893},{"t":76.7,"v":-0.936},{"t":84.2,"v":-0.915},{"t":86.4,"v":-0.893},{"t":89.7,"v":-0.914},{"t":100.8,"v":-0.935},{"t":101.5,"v":-0.927},{"t":113.2,"v":-0.910},{"t":109.6,"v":-0.948},{"t":67.7,"v":-0.963},{"t":72.0,"v":-0.971},{"t":73.1,"v":-0.947},{"t":74.0,"v":-0.944},{"t":74.0,"v":-0.952},{"t":80.6,"v":-0.945},{"t":82.8,"v":-0.960},{"t":86.7,"v":-0.979},{"t":90.5,"v":-0.986},{"t":92.7,"v":-0.989},{"t":93.2,"v":-0.999},{"t":94.3,"v":-0.969},{"t":96.1,"v":-0.964},{"t":97.4,"v":-0.966},{"t":100.3,"v":-0.957},{"t":100.5,"v":-0.971},{"t":100.3,"v":-0.984},{"t":99.5,"v":-0.989},{"t":102.7,"v":-0.987},{"t":106.0,"v":-0.968},{"t":107.0,"v":-0.987},{"t":112.5,"v":-0.978},{"t":115.4,"v":-0.966},{"t":115.7,"v":-0.987},{"t":117.7,"v":-0.982},{"t":114.7,"v":-0.992},{"t":114.1,"v":-0.995},{"t":110.4,"v":-1.0},{"t":111.7,"v":-0.999},{"t":118.2,"v":-1.0},{"t":59.1,"v":-0.998},{"t":60.9,"v":-0.996},{"t":61.6,"v":-1.0},{"t":64.2,"v":-1.0},{"t":66.5,"v":-1.0},{"t":67.7,"v":-0.995},{"t":68.7,"v":-1.0},{"t":70.6,"v":-1.0},{"t":73.5,"v":-1.0},{"t":75.7,"v":-0.987},{"t":75.9,"v":-0.999},{"t":76.8,"v":-0.999},{"t":77.7,"v":-0.998},{"t":78.3,"v":-1.0},{"t":80.7,"v":-0.987},{"t":82.3,"v":-0.990},{"t":85.3,"v":-1.0},{"t":95.6,"v":-1.0},{"t":97.4,"v":-0.993},{"t":99.8,"v":-1.0},{"t":65.7,"v":-0.980},
{"t":142.9,"v":-0.379},{"t":135.9,"v":-0.398},{"t":132.3,"v":-0.413},{"t":148.1,"v":-0.411},{"t":121.3,"v":-0.441},{"t":122.1,"v":-0.440},{"t":136.0,"v":-0.448},{"t":158.3,"v":-0.441},{"t":132.2,"v":-0.479},{"t":133.5,"v":-0.478},{"t":138.1,"v":-0.489},{"t":147.5,"v":-0.464},{"t":147.4,"v":-0.496},{"t":121.6,"v":-0.519},{"t":127.1,"v":-0.533},{"t":134.3,"v":-0.531},{"t":122.0,"v":-0.553},{"t":120.6,"v":-0.576},{"t":132.7,"v":-0.569},{"t":153.5,"v":-0.569},{"t":161.5,"v":-0.561},{"t":121.1,"v":-0.603},{"t":122.5,"v":-0.606},{"t":120.2,"v":-0.629},{"t":120.2,"v":-0.636},{"t":120.3,"v":-0.655},{"t":154.9,"v":-0.655},{"t":163.5,"v":-0.648},{"t":123.9,"v":-0.671},{"t":125.3,"v":-0.684},{"t":125.9,"v":-0.705},{"t":127.4,"v":-0.729},{"t":130.8,"v":-0.719},{"t":140.6,"v":-0.713},{"t":143.1,"v":-0.705},{"t":151.9,"v":-0.731},{"t":156.7,"v":-0.708},{"t":131.2,"v":-0.781},{"t":137.6,"v":-0.785},{"t":134.9,"v":-0.791},{"t":141.7,"v":-0.792},{"t":149.8,"v":-0.758},{"t":145.5,"v":-0.811},{"t":122.7,"v":-0.811},{"t":124.0,"v":-0.805},{"t":129.4,"v":-0.805},{"t":133.9,"v":-0.817},{"t":143.6,"v":-0.834},{"t":127.4,"v":-0.867},{"t":137.0,"v":-0.861},{"t":139.3,"v":-0.873},{"t":140.7,"v":-0.907},{"t":129.5,"v":-0.902},{"t":120.7,"v":-0.923},{"t":122.4,"v":-0.914},{"t":137.9,"v":-0.927},{"t":162.6,"v":-0.843},{"t":159.9,"v":-0.864},{"t":162.4,"v":-0.861},{"t":166.8,"v":-0.856},{"t":176.0,"v":-0.868},{"t":170.4,"v":-0.903},{"t":158.8,"v":-0.939},{"t":164.2,"v":-0.936},{"t":173.9,"v":-0.939},{"t":124.3,"v":-0.960},{"t":125.1,"v":-0.974},{"t":127.4,"v":-0.976},{"t":129.6,"v":-0.966},{"t":131.1,"v":-0.976},{"t":133.0,"v":-0.957},{"t":162.1,"v":-0.980},{"t":170.5,"v":-0.982},{"t":125.8,"v":-1.0},{"t":130.3,"v":-1.0},{"t":134.3,"v":-1.0},{"t":139.2,"v":-0.994},{"t":141.0,"v":-1.0},{"t":144.6,"v":-0.991},{"t":149.8,"v":-0.987},{"t":150.7,"v":-1.0},{"t":152.1,"v":-0.987},{"t":157.7,"v":-1.0}
]},
"layer":[
{"data":{"name":"dots"},"mark":{"type":"point","shape":"circle","filled":false,"color":"#ff0000","size":9,"strokeWidth":1,"opacity":1},
 "encoding":{
  "x":{"field":"t","type":"quantitative","title":"θ (Degree)","scale":{"domain":[-7.95,185.7],"nice":false,"zero":false},"axis":{"values":[0,50,100,150],"format":"d","titlePadding":12}},
  "y":{"field":"v","type":"quantitative","title":null,"scale":{"domain":[-1.1,1.1],"nice":false,"zero":false},"axis":{"values":[-1,-0.75,-0.5,-0.25,0,0.25,0.5,0.75,1],"format":".2f"}}}},
{"data":{"name":"bins"},"mark":{"type":"rule","color":"#1f77b4","strokeWidth":4.2},
 "encoding":{"x":{"field":"t","type":"quantitative","title":"θ (Degree)"},"y":{"field":"lo","type":"quantitative","title":null},"y2":{"field":"hi"}}},
{"data":{"name":"bins"},"mark":{"type":"line","color":"#1f77b4","strokeWidth":4.2},
 "encoding":{"x":{"field":"t","type":"quantitative","title":"θ (Degree)"},"y":{"field":"m","type":"quantitative","title":null}}},
{"data":{"name":"fit"},"mark":{"type":"line","color":"#ff0000","strokeWidth":5.5,"interpolate":"monotone"},
 "encoding":{"x":{"field":"t","type":"quantitative","title":"θ (Degree)"},"y":{"field":"f","type":"quantitative","title":null}}}
]
}
